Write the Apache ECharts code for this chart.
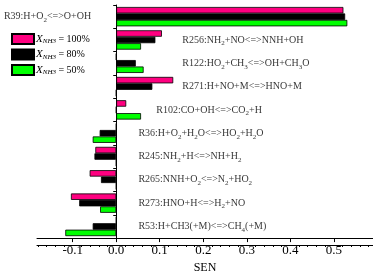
<!DOCTYPE html>
<html>
<head>
<meta charset="utf-8">
<script src="https://cdn.jsdelivr.net/npm/echarts@6/dist/echarts.min.js"></script>
<style>
html,body{margin:0;padding:0;background:#fff;}
#chart{width:373px;height:279px;}
</style>
</head>
<body>
<div id="chart"></div>
<script>
// ---- data ----
const categories = [
  'R39:H+O_2<=>O+OH',
  'R256:NH_2+NO<=>NNH+OH',
  'R122:HO_2+CH_3<=>OH+CH_3O',
  'R271:H+NO+M<=>HNO+M',
  'R102:CO+OH<=>CO_2+H',
  'R36:H+O_2+H_2O<=>HO_2+H_2O',
  'R245:NH_2+H<=>NH+H_2',
  'R265:NNH+O_2<=>N_2+HO_2',
  'R273:HNO+H<=>H_2+NO',
  'R53:H+CH3(+M)<=>CH_4(+M)'
];
const seriesNames = ['100%', '80%', '50%'];
const sen100 = [0.522, 0.105, 0, 0.131, 0.023, 0, -0.048, -0.061, -0.104, 0];
const sen80  = [0.526, 0.090, 0.045, 0.083, 0, -0.038, -0.050, -0.035, -0.085, -0.054];
const sen50  = [0.531, 0.057, 0.063, 0, 0.057, -0.054, 0, 0, -0.037, -0.117];
const majorTicks = [-0.1, 0, 0.1, 0.2, 0.3, 0.4, 0.5];
const minorTicks = [-0.18,-0.16,-0.14,-0.12,-0.08,-0.06,-0.04,-0.02,0.02,0.04,0.06,0.08,0.12,0.14,0.16,0.18,
  0.22,0.24,0.26,0.28,0.32,0.34,0.36,0.38,0.42,0.44,0.46,0.48,0.52,0.54,0.56,0.58];

// ---- layout (label anchor along the value axis) ----
const labelAnchor = [-0.258, 0.152, 0.152, 0.152, 0.092, 0.051, 0.051, 0.051, 0.051, 0.051];

const FONT = 'Liberation Serif';
const colors = ['#ff0080', '#000000', '#00ff00'];
const gridBox = {left: 37, right: 0, top: 5, bottom: 34};
const xMin = -0.182, xMax = 0.59;

function toRich(s){ return s.replace(/_(\d)/g, '{s|$1}'); }

const chart = echarts.init(document.getElementById('chart'), null, {renderer: 'canvas'});

const barSeries = [sen100, sen80, sen50].map((d, i) => ({
  name: seriesNames[i],
  type: 'bar',
  xAxisIndex: 0, yAxisIndex: 0,
  data: d,
  barGap: '0%',
  barCategoryGap: '17%',
  itemStyle: {color: colors[i], borderColor: '#000', borderWidth: 0.8},
  animation: false
}));

const option = {
  animation: false,
  backgroundColor: '#fff',
  grid: [Object.assign({}, gridBox), Object.assign({}, gridBox)],
  legend: {
    data: seriesNames,
    orient: 'vertical',
    left: 11, top: 33, padding: 0,
    itemWidth: 22, itemHeight: 10, itemGap: 3.5,
    icon: 'rect',
    formatter: n => '{x|X}{s|NH3}{t| = ' + n + '}',
    textStyle: {
      fontFamily: FONT, color: '#000', fontSize: 10, padding: [0, 0, 0, -3],
      rich: {
        x: {fontFamily: FONT, fontStyle: 'italic', fontSize: 11, lineHeight: 12, color: '#000'},
        s: {fontFamily: FONT, fontStyle: 'italic', fontSize: 7, lineHeight: 7, verticalAlign: 'bottom', color: '#000'},
        t: {fontFamily: FONT, fontSize: 10, lineHeight: 12, color: '#000'}
      }
    }
  },
  xAxis: [{
    type: 'value', gridIndex: 0, min: xMin, max: xMax, position: 'bottom',
    axisLine: {show: true, onZero: false, lineStyle: {color: '#000', width: 1}},
    axisTick: {show: true, customValues: majorTicks, length: 4, lineStyle: {color: '#000', width: 1}},
    axisLabel: {customValues: majorTicks, formatter: v => v.toFixed(1), fontFamily: FONT, fontSize: 13, color: '#000', margin: 6},
    splitLine: {show: false},
    name: 'SEN', nameLocation: 'middle', nameGap: 19,
    nameTextStyle: {fontFamily: FONT, fontSize: 12, color: '#000', verticalAlign: 'top'}
  }, {
    type: 'value', gridIndex: 1, min: xMin, max: xMax, position: 'bottom',
    axisLine: {show: true, onZero: false, lineStyle: {color: '#000', width: 1}},
    axisTick: {show: true, customValues: minorTicks, length: 2, lineStyle: {color: '#000', width: 1}},
    axisLabel: {show: false},
    splitLine: {show: false}
  }],
  yAxis: [{
    type: 'category', gridIndex: 0, data: categories, inverse: true,
    axisLine: {show: true, onZero: true, lineStyle: {color: '#000', width: 1}},
    axisTick: {show: true, length: 3, lineStyle: {color: '#000'}},
    axisLabel: {show: false},
    splitLine: {show: false}
  }, {
    type: 'category', gridIndex: 1, data: categories, inverse: true, show: false
  }],
  series: barSeries.concat([{
    type: 'scatter',
    xAxisIndex: 0, yAxisIndex: 0,
    symbolSize: 0,
    clip: false,
    silent: true,
    data: categories.map((c, i) => [labelAnchor[i], c]),
    label: {
      show: true, position: 'right', distance: 0,
      fontFamily: FONT, fontSize: 10, color: '#000', lineHeight: 14,
      formatter: p => toRich(p.value[1]),
      rich: {
        s: {fontFamily: FONT, fontSize: 7, lineHeight: 8, verticalAlign: 'bottom', color: '#000'}
      }
    }
  }])
};
chart.setOption(option);
</script>
</body>
</html>
